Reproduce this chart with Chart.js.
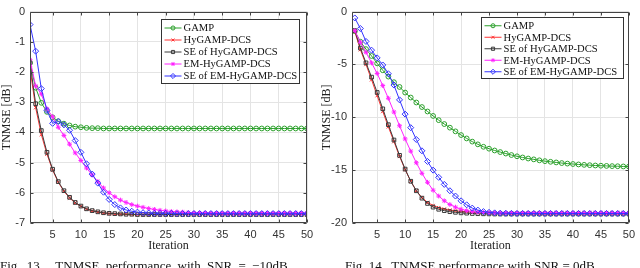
<!DOCTYPE html>
<html>
<head>
<meta charset="utf-8">
<script src="https://cdn.jsdelivr.net/npm/chart.js@4/dist/chart.umd.min.js"></script>
<style>
  html, body { margin: 0; padding: 0; background: #fff; overflow: hidden; }
  body { width: 640px; height: 268px; position: relative; }
  canvas { position: absolute; top: 0; }
  #c1 { left: 0; }
  #c2 { left: 320px; }
  .cap { position: absolute; top: 258px; font: 13px "Liberation Serif", serif; color: #111; white-space: nowrap; }
</style>
</head>
<body>
<canvas id="c1" width="320" height="268"></canvas>
<canvas id="c2" width="320" height="268"></canvas>
<div class="cap" style="left:0; word-spacing:3px">Fig. 13.&nbsp; TNMSE performance with SNR = −10dB.</div>
<div class="cap" style="left:345px">Fig. 14.&nbsp; TNMSE performance with SNR = 0dB.</div>
<script>
// x categories
const iterations = [1,2,3,4,5,6,7,8,9,10,11,12,13,14,15,16,17,18,19,20,21,22,23,24,25,
  26,27,28,29,30,31,32,33,34,35,36,37,38,39,40,41,42,43,44,45,46,47,48,49,50];
const xTicks = [5,10,15,20,25,30,35,40,45,50];
const yTicksL = [-7,-6,-5,-4,-3,-2,-1,0];
const yTicksR = [-20,-15,-10,-5,0];
const seriesNames = ['GAMP','HyGAMP-DCS','SE of HyGAMP-DCS','EM-HyGAMP-DCS','SE of EM-HyGAMP-DCS'];

// Fig. 13, SNR = -10dB
const gampL = [-1.70,-2.52,-3.02,-3.32,-3.50,-3.63,-3.71,-3.77,-3.81,-3.83,-3.85,-3.86,-3.86,-3.87,-3.87,
  -3.87,-3.87,-3.87,-3.87,-3.87,-3.87,-3.87,-3.87,-3.87,-3.87,-3.87,-3.87,-3.87,-3.87,-3.87,
  -3.87,-3.87,-3.87,-3.87,-3.87,-3.87,-3.87,-3.87,-3.87,-3.87,-3.87,-3.87,-3.87,-3.87,-3.87,
  -3.87,-3.87,-3.87,-3.87,-3.87];
const hyL = [-1.88,-3.18,-4.07,-4.72,-5.25,-5.65,-5.95,-6.17,-6.33,-6.45,-6.54,-6.60,-6.64,-6.67,-6.69,
  -6.70,-6.71,-6.71,-6.72,-6.72,-6.72,-6.72,-6.72,-6.72,-6.72,-6.72,-6.72,-6.72,-6.72,-6.72,
  -6.72,-6.72,-6.72,-6.72,-6.72,-6.72,-6.72,-6.72,-6.72,-6.72,-6.72,-6.72,-6.72,-6.72,-6.72,
  -6.72,-6.72,-6.72,-6.72,-6.72];
const seHyL = [-1.69,-3.05,-3.94,-4.66,-5.22,-5.63,-5.93,-6.15,-6.32,-6.44,-6.53,-6.59,-6.63,-6.66,-6.68,
  -6.69,-6.70,-6.71,-6.71,-6.72,-6.72,-6.72,-6.72,-6.72,-6.72,-6.72,-6.72,-6.72,-6.72,-6.72,
  -6.72,-6.72,-6.72,-6.72,-6.72,-6.72,-6.72,-6.72,-6.72,-6.72,-6.72,-6.72,-6.72,-6.72,-6.72,
  -6.72,-6.72,-6.72,-6.72,-6.72];
const emL = [-1.59,-2.46,-2.73,-3.22,-3.48,-3.83,-4.10,-4.39,-4.68,-4.93,-5.18,-5.41,-5.63,-5.84,-6.00,
  -6.13,-6.24,-6.32,-6.39,-6.44,-6.48,-6.52,-6.55,-6.58,-6.60,-6.62,-6.63,-6.64,-6.65,-6.66,
  -6.66,-6.66,-6.67,-6.67,-6.67,-6.67,-6.67,-6.67,-6.67,-6.67,-6.67,-6.67,-6.67,-6.67,-6.67,
  -6.67,-6.67,-6.67,-6.67,-6.67];
const seEmL = [-0.43,-1.31,-2.55,-3.27,-3.70,-3.64,-3.75,-3.93,-4.27,-4.66,-5.04,-5.38,-5.68,-5.98,-6.22,
  -6.39,-6.50,-6.57,-6.61,-6.64,-6.66,-6.67,-6.68,-6.68,-6.68,-6.68,-6.69,-6.69,-6.69,-6.69,
  -6.69,-6.69,-6.69,-6.69,-6.69,-6.69,-6.69,-6.69,-6.69,-6.69,-6.69,-6.69,-6.69,-6.69,-6.69,
  -6.69,-6.69,-6.69,-6.69,-6.69];

// Fig. 14, SNR = 0dB
const gampR = [-1.85,-2.85,-3.55,-4.20,-4.90,-5.55,-6.15,-6.68,-7.13,-7.66,-8.13,-8.60,-9.03,-9.45,-9.87,
  -10.27,-10.64,-10.98,-11.33,-11.68,-12.00,-12.30,-12.56,-12.79,-12.97,-13.14,-13.29,-13.43,-13.57,-13.69,
  -13.80,-13.90,-13.98,-14.07,-14.15,-14.21,-14.27,-14.33,-14.38,-14.42,-14.46,-14.50,-14.53,-14.56,-14.58,
  -14.60,-14.62,-14.63,-14.65,-14.66];
const hyR = [-1.90,-3.60,-5.00,-6.45,-7.95,-9.45,-10.90,-12.30,-13.70,-14.95,-16.05,-16.95,-17.60,-18.05,-18.35,
  -18.55,-18.68,-18.78,-18.85,-18.90,-18.94,-18.97,-19.00,-19.02,-19.04,-19.05,-19.06,-19.07,-19.08,-19.08,
  -19.09,-19.09,-19.09,-19.10,-19.10,-19.10,-19.10,-19.10,-19.10,-19.10,-19.10,-19.10,-19.10,-19.10,-19.10,
  -19.10,-19.10,-19.10,-19.10,-19.10];
const seHyR = [-1.80,-3.45,-4.85,-6.20,-7.65,-9.20,-10.70,-12.15,-13.60,-14.90,-16.05,-16.95,-17.65,-18.15,-18.50,
  -18.70,-18.83,-18.93,-18.99,-19.04,-19.07,-19.10,-19.12,-19.13,-19.14,-19.15,-19.15,-19.15,-19.15,-19.15,
  -19.15,-19.15,-19.15,-19.15,-19.15,-19.15,-19.15,-19.15,-19.15,-19.15,-19.15,-19.15,-19.15,-19.15,-19.15,
  -19.15,-19.15,-19.15,-19.15,-19.15];
const emR = [-1.80,-2.90,-3.85,-4.85,-5.85,-7.00,-8.20,-9.50,-10.80,-12.05,-13.20,-14.30,-15.30,-16.15,-16.90,
  -17.45,-17.90,-18.25,-18.50,-18.70,-18.83,-18.92,-18.97,-19.00,-19.02,-19.03,-19.03,-19.03,-19.03,-19.03,
  -19.03,-19.03,-19.03,-19.03,-19.03,-19.03,-19.03,-19.03,-19.03,-19.03,-19.03,-19.03,-19.03,-19.03,-19.03,
  -19.03,-19.03,-19.03,-19.03,-19.03];
const seEmR = [-0.60,-1.60,-2.82,-3.65,-4.38,-5.05,-5.88,-6.95,-8.35,-9.70,-10.98,-12.10,-13.17,-14.18,-15.00,
  -15.68,-16.35,-16.95,-17.45,-17.90,-18.28,-18.59,-18.78,-18.92,-18.99,-19.04,-19.07,-19.08,-19.09,-19.10,
  -19.10,-19.10,-19.10,-19.10,-19.10,-19.10,-19.10,-19.10,-19.10,-19.10,-19.10,-19.10,-19.10,-19.10,-19.10,
  -19.10,-19.10,-19.10,-19.10,-19.10];

const styles = [
  { color: '#2ca02c', pointStyle: 'circle',   radius: 2.4, fill: 'rgba(255,255,255,0)' },
  { color: '#ff3333', pointStyle: 'crossRot', radius: 2.4, fill: '#ff3333' },
  { color: '#3a3a3a', pointStyle: 'rect',     radius: 2.6, fill: 'rgba(255,255,255,0)' },
  { color: '#ff22ff', pointStyle: 'star',     radius: 2.4, fill: '#ff22ff' },
  { color: '#3333ff', pointStyle: 'rectRot',  radius: 3.0, fill: 'rgba(255,255,255,0)' }
];

// box around plot area + inward tick marks (matlab style)
const boxPlugin = {
  id: 'box',
  afterDatasetsDraw(chart) {
    const { ctx, chartArea: a, scales } = chart;
    const l = Math.round(a.left) + 0.5, r = Math.round(a.right) - 0.5;
    const t = Math.round(a.top) + 0.5, b = Math.round(a.bottom) - 0.5;
    ctx.save();
    ctx.strokeStyle = '#444';
    ctx.lineWidth = 1;
    ctx.beginPath();
    ctx.rect(l, t, r - l, b - t);
    scales.x.ticks.forEach(tk => {
      const px = Math.round(scales.x.getPixelForValue(tk.value)) + 0.5;
      ctx.moveTo(px, b); ctx.lineTo(px, b - 3);
      ctx.moveTo(px, t); ctx.lineTo(px, t + 3);
    });
    scales.y.ticks.forEach(tk => {
      const py = Math.round(scales.y.getPixelForValue(tk.value)) + 0.5;
      ctx.moveTo(l, py); ctx.lineTo(l + 3, py);
      ctx.moveTo(r, py); ctx.lineTo(r - 3, py);
    });
    ctx.stroke();
    ctx.restore();
  }
};

// legend drawn inside the plot, top right
const boxLegend = {
  id: 'boxLegend',
  afterDraw(chart, args, opts) {
    const { ctx, chartArea: a } = chart;
    const bx = Math.round(a.right - opts.right - opts.width) + 0.5;
    const by = Math.round(a.top + opts.top) + 0.5;
    ctx.save();
    ctx.fillStyle = '#fff';
    ctx.strokeStyle = '#333';
    ctx.lineWidth = 1;
    ctx.fillRect(bx, by, opts.width, opts.height);
    ctx.strokeRect(bx, by, opts.width, opts.height);
    ctx.font = opts.font;
    ctx.textBaseline = 'middle';
    chart.data.datasets.forEach((ds, i) => {
      const cy = by + 2.5 + opts.rowH * (i + 0.5);
      ctx.strokeStyle = ds.borderColor;
      ctx.lineWidth = 1;
      ctx.beginPath();
      ctx.moveTo(bx + 3, cy); ctx.lineTo(bx + 20, cy);
      ctx.stroke();
      ctx.fillStyle = ds.pointBackgroundColor;
      Chart.helpers.drawPoint(ctx, { pointStyle: ds.pointStyle, rotation: 0, radius: ds.pointRadius * 0.85, borderWidth: 1 }, bx + 11.5, cy);
      ctx.fillStyle = '#111';
      ctx.fillText(ds.label, bx + 22, cy + 0.5);
    });
    ctx.restore();
  }
};

function makeChart(id, series, cfg) {
  const datasets = series.map((vals, i) => ({
    label: seriesNames[i],
    data: iterations.map((x, k) => ({ x: x, y: vals[k] })),
    borderColor: styles[i].color,
    borderWidth: 1,
    pointStyle: styles[i].pointStyle,
    pointRadius: styles[i].radius,
    pointBorderWidth: 1,
    pointBorderColor: styles[i].color,
    pointBackgroundColor: styles[i].fill,
    tension: 0,
    order: series.length - i
  }));
  return new Chart(document.getElementById(id), {
    type: 'line',
    data: { datasets },
    options: {
      responsive: false,
      animation: false,
      layout: { padding: { left: 0, right: cfg.padRight, top: 5, bottom: 13 } },
      scales: {
        x: {
          type: 'linear', min: cfg.xMin, max: 50,
          afterBuildTicks: s => { s.ticks = xTicks.map(v => ({ value: v })); },
          afterFit: s => { s.height = 32; },
          grid: { color: '#e4e4e4', drawTicks: false },
          border: { display: false },
          ticks: { padding: 5, autoSkip: false, maxRotation: 0, color: '#333',
                   font: { family: 'Liberation Sans', size: 11 } },
          title: { display: true, text: 'Iteration', color: '#222',
                   font: { family: 'Liberation Serif', size: 12 }, padding: { top: 0, bottom: 2 } }
        },
        y: {
          min: cfg.yTicks[0], max: 0,
          afterBuildTicks: s => { s.ticks = cfg.yTicks.map(v => ({ value: v })); },
          afterFit: s => { s.width = cfg.yWidth; },
          grid: { color: '#e4e4e4', drawTicks: false },
          border: { display: false },
          ticks: { padding: 5, color: '#333', font: { family: 'Liberation Sans', size: 11 } },
          title: { display: true, text: 'TNMSE [dB]', color: '#222',
                   font: { family: 'Liberation Serif', size: 12 }, padding: { top: 0, bottom: 0 } }
        }
      },
      plugins: {
        legend: { display: false },
        tooltip: { enabled: false },
        boxLegend: cfg.legend
      }
    },
    plugins: [boxPlugin, boxLegend]
  });
}

makeChart('c1', [gampL, hyL, seHyL, emL, seEmL], {
  xMin: 1, yTicks: yTicksL, yWidth: 30, padRight: 13,
  legend: { width: 138, height: 64, right: 8, top: 7, rowH: 12, font: '10.6px "Liberation Serif"' }
});
makeChart('c2', [gampR, hyR, seHyR, emR, seEmR], {
  xMin: 0.5, yTicks: yTicksR, yWidth: 32, padRight: 7,
  legend: { width: 142, height: 61, right: 5.5, top: 5.5, rowH: 11.5, font: '10.6px "Liberation Serif"' }
});
</script>
</body>
</html>
